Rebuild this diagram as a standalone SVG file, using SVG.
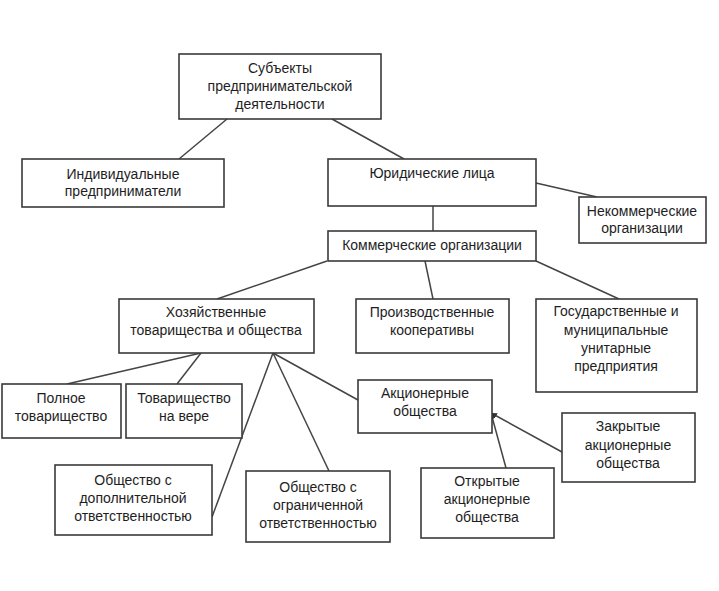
<svg xmlns="http://www.w3.org/2000/svg" width="719" height="591" viewBox="0 0 719 591">
<style>
.box{fill:#fff;stroke:#3a3a3a;stroke-width:1.6}
.t{font-family:"Liberation Sans",Arial,sans-serif;font-size:14px;fill:#1e1e1e;text-anchor:middle}
.c{stroke:#444;stroke-width:1.5;fill:none}
</style>
<defs>
<marker id="ah" viewBox="0 0 10 10" refX="10" refY="5" markerWidth="6" markerHeight="6" orient="auto" markerUnits="userSpaceOnUse">
<path d="M0,0 L10,5 L0,10 z" fill="#333"/>
</marker>
</defs>
<rect width="719" height="591" fill="#fff"/>
<g id="connectors">
<line class="c" x1="227" y1="119" x2="179" y2="159"/>
<line class="c" x1="332" y1="119" x2="404" y2="159"/>
<line class="c" x1="536" y1="183" x2="597" y2="197"/>
<line class="c" x1="433" y1="206" x2="433" y2="231"/>
<line class="c" x1="327" y1="261" x2="217" y2="299"/>
<line class="c" x1="425" y1="261" x2="433" y2="299"/>
<line class="c" x1="536" y1="261" x2="619" y2="299"/>
<line class="c" x1="201" y1="353" x2="67" y2="384"/>
<line class="c" x1="201" y1="353" x2="177" y2="384"/>
<line class="c" x1="273" y1="353" x2="212" y2="517"/>
<line class="c" x1="273" y1="353" x2="329" y2="471"/>
<line class="c" x1="273" y1="353" x2="358" y2="400"/>
<line class="c" x1="562" y1="452" x2="491" y2="413" marker-end="url(#ah)"/>
<line class="c" x1="506" y1="468" x2="491" y2="413" marker-end="url(#ah)"/>
</g>
<g id="n1"><rect class="box" x="179" y="54" width="202" height="65"/>
<text class="t" x="280" y="73">Субъекты</text><text class="t" x="280" y="91">предпринимательской</text><text class="t" x="280" y="109">деятельности</text></g>
<g id="n2"><rect class="box" x="22" y="159" width="202" height="48"/>
<text class="t" x="123" y="179">Индивидуальные</text><text class="t" x="123" y="196">предприниматели</text></g>
<g id="n3"><rect class="box" x="328" y="159" width="208" height="47"/>
<text class="t" x="432" y="178">Юридические лица</text></g>
<g id="n4"><rect class="box" x="579" y="197" width="127" height="46"/>
<text class="t" x="642" y="216">Некоммерческие</text><text class="t" x="642" y="233">организации</text></g>
<g id="n5"><rect class="box" x="328" y="231" width="208" height="30"/>
<text class="t" x="432" y="250">Коммерческие организации</text></g>
<g id="n6"><rect class="box" x="119" y="299" width="195" height="54"/>
<text class="t" x="216" y="317">Хозяйственные</text><text class="t" x="216" y="335">товарищества и общества</text></g>
<g id="n7"><rect class="box" x="356" y="299" width="153" height="54"/>
<text class="t" x="432" y="317">Производственные</text><text class="t" x="432" y="335">кооперативы</text></g>
<g id="n8"><rect class="box" x="536" y="299" width="161" height="93"/>
<text class="t" x="616" y="316">Государственные и</text><text class="t" x="616" y="335">муниципальные</text><text class="t" x="616" y="353">унитарные</text><text class="t" x="616" y="371">предприятия</text></g>
<g id="n9"><rect class="box" x="2" y="384" width="119" height="54"/>
<text class="t" x="61" y="403">Полное</text><text class="t" x="61" y="421">товарищество</text></g>
<g id="n10"><rect class="box" x="126" y="384" width="116" height="54"/>
<text class="t" x="184" y="403">Товарищество</text><text class="t" x="184" y="421">на вере</text></g>
<g id="n11"><rect class="box" x="358" y="380" width="134" height="53"/>
<text class="t" x="425" y="398">Акционерные</text><text class="t" x="425" y="416">общества</text></g>
<g id="n12"><rect class="box" x="562" y="413" width="133" height="69"/>
<text class="t" x="628" y="431">Закрытые</text><text class="t" x="628" y="450">акционерные</text><text class="t" x="628" y="468">общества</text></g>
<g id="n13"><rect class="box" x="55" y="465" width="157" height="70"/>
<text class="t" x="133" y="485">Общество с</text><text class="t" x="133" y="503">дополнительной</text><text class="t" x="133" y="521">ответственностью</text></g>
<g id="n14"><rect class="box" x="246" y="471" width="144" height="71"/>
<text class="t" x="318" y="492">Общество с</text><text class="t" x="318" y="510">ограниченной</text><text class="t" x="318" y="528">ответственностью</text></g>
<g id="n15"><rect class="box" x="421" y="468" width="133" height="70"/>
<text class="t" x="487" y="486">Открытые</text><text class="t" x="487" y="504">акционерные</text><text class="t" x="487" y="522">общества</text></g>
</svg>
